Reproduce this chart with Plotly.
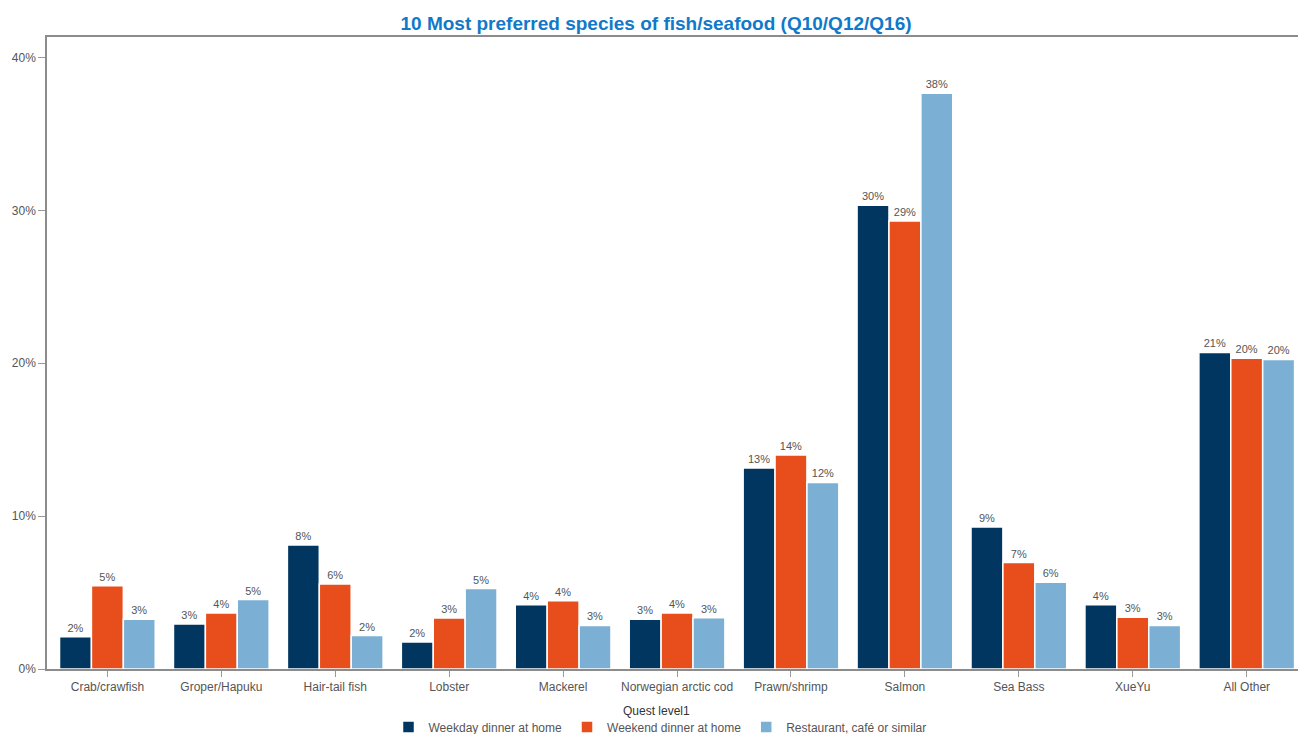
import plotly.graph_objects as go

# Species (x categories)
species = [
    "Crab/crawfish", "Groper/Hapuku", "Hair-tail fish", "Lobster", "Mackerel",
    "Norwegian arctic cod", "Prawn/shrimp", "Salmon", "Sea Bass", "XueYu", "All Other",
]

# Share of respondents (%) per occasion
weekday_home = [2.11, 2.94, 8.11, 1.76, 4.20, 3.26, 13.14, 30.33, 9.29, 4.20, 20.71]
weekend_home = [5.45, 3.67, 5.56, 3.33, 4.46, 3.66, 14.00, 29.31, 6.96, 3.39, 20.32]
restaurant = [3.26, 4.54, 2.19, 5.26, 2.85, 3.35, 12.20, 37.66, 5.68, 2.85, 20.25]

series_names = ["Weekday dinner at home", "Weekend dinner at home", "Restaurant, café or similar"]
series_values = [weekday_home, weekend_home, restaurant]
series_colors = ["#00365f", "#e84e1c", "#7bafd4"]

FONT = "Liberation Sans, Arial, sans-serif"

fig = go.Figure()
for name, vals, color in zip(series_names, series_values, series_colors):
    fig.add_trace(go.Bar(
        x=species,
        y=vals,
        name=name,
        marker=dict(color=color, line=dict(color="white", width=1.5)),
        texttemplate="%{y:.0f}%",
        textposition="outside",
        textfont=dict(family=FONT, size=11, color="#555555"),
        cliponaxis=False,
        hovertemplate="%{x}<br>%{y:.1f}%<extra>" + name + "</extra>",
    ))

fig.update_layout(
    width=1298,
    height=734,
    margin=dict(l=47, r=0, t=37, b=65, autoexpand=False),
    paper_bgcolor="white",
    plot_bgcolor="white",
    barmode="group",
    bargap=0.16,
    bargroupgap=0,
    title=dict(
        text="<b>10 Most preferred species of fish/seafood (Q10/Q12/Q16)</b>",
        font=dict(family=FONT, size=19, color="#1179c9"),
        x=656 / 1298,
        xref="container",
        xanchor="center",
        y=1 - 23 / 734,
        yanchor="middle",
    ),
    font=dict(family=FONT, size=12, color="#555555"),
    showlegend=True,
    legend=dict(
        orientation="h",
        x=(660 - 47) / 1251,
        xanchor="center",
        y=-(727 - 669) / 632,
        yanchor="middle",
        font=dict(family=FONT, size=12, color="#555555"),
        itemwidth=30,
        tracegroupgap=0,
        bgcolor="rgba(0,0,0,0)",
    ),
    xaxis=dict(
        type="category",
        range=[-0.53, 10.45],
        showline=True,
        linecolor="#8c8c8c",
        linewidth=1.5,
        mirror=True,
        ticks="outside",
        ticklen=6,
        tickcolor="#999999",
        tickfont=dict(family=FONT, size=12, color="#555555"),
        showgrid=False,
        zeroline=False,
    ),
    yaxis=dict(
        range=[0, 41.34],
        dtick=10,
        tick0=0,
        ticksuffix="%",
        showline=True,
        linecolor="#8c8c8c",
        linewidth=1.5,
        ticks="outside",
        ticklen=7,
        tickcolor="#999999",
        tickfont=dict(family=FONT, size=12, color="#555555"),
        showgrid=False,
        zeroline=False,
    ),
    annotations=[
        dict(
            text="Quest level1",
            xref="paper", yref="paper",
            x=(656 - 47) / 1251, y=-(711 - 669) / 632,
            xanchor="center", yanchor="middle",
            showarrow=False,
            font=dict(family=FONT, size=12, color="#333333"),
        )
    ],
)

fig.write_html("out.html")
